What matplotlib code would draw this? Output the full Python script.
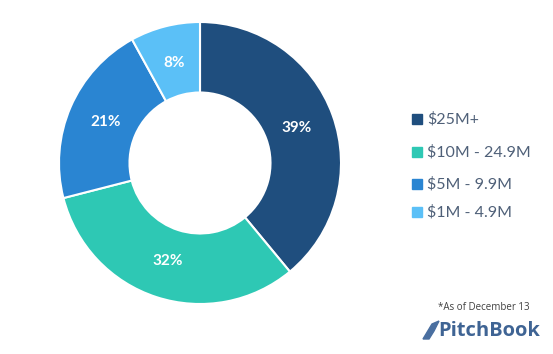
import matplotlib
matplotlib.use("Agg")
import matplotlib.pyplot as plt
from matplotlib.patches import Polygon
import numpy as np

# data
labels = ["$25M+", "$10M - 24.9M", "$5M - 9.9M", "$1M - 4.9M"]
shares = [39, 32, 21, 8]
colors = ["#1f4e7e", "#2ec8b4", "#2a85d2", "#5bc0f7"]

plt.rcParams["font.family"] = ["Lato", "DejaVu Sans"]

fig = plt.figure(figsize=(5.53, 3.54), dpi=100)
ax = fig.add_axes([0.0, 0.0, 1.0, 1.0])

cx, cy, r = 200, 163, 141
# y axis points down, so start at -90 and go counterclockwise in data terms
wedges, _ = ax.pie(shares, colors=colors, startangle=-90, counterclock=True,
                   radius=r, center=(cx, cy),
                   wedgeprops=dict(width=r * 0.5, edgecolor="white", linewidth=1.5))
ax.set_xlim(0, 553)
ax.set_ylim(354, 0)
ax.set_aspect("equal")
ax.axis("off")

start = 90
for val in shares:
    mid = np.deg2rad(start - val * 3.6 / 2)
    start -= val * 3.6
    x = cx + 0.73 * r * np.cos(mid)
    y = cy - 0.73 * r * np.sin(mid)
    ax.text(x, y, f"{val}%", color="white", fontsize=11, fontweight="bold",
            ha="center", va="center")

# legend
ly = [119, 152, 184, 212]
for lab, col, y in zip(labels, colors, ly):
    ax.add_patch(plt.Rectangle((412, y - 5), 10, 10, color=col))
    ax.text(427, y, lab, color="#4f6078", fontsize=11.5, va="center", ha="left")

ax.text(484, 308, "*As of December 13", fontsize=7, color="#404040",
        ha="center", va="center", family=["Open Sans", "DejaVu Sans"])
ax.add_patch(Polygon([[423, 339], [432, 324], [439, 321], [434, 331], [429, 339]],
                     closed=True, color="#4a6fa0"))
ax.text(438, 331, "PitchBook", fontsize=14.5, fontweight="bold", color="#3f6494",
        ha="left", va="center", family=["Open Sans", "DejaVu Sans"])

fig.savefig("out.png", dpi=100)
